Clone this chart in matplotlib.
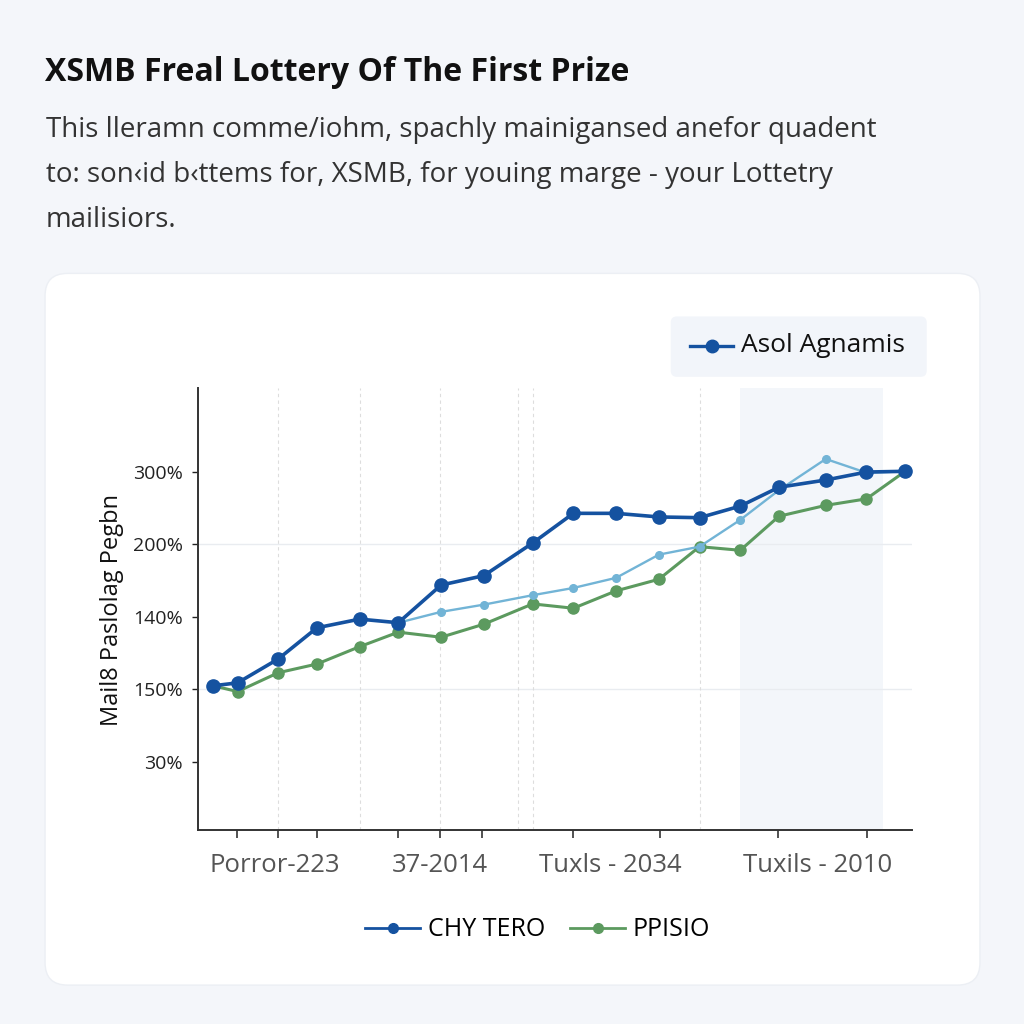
import matplotlib
matplotlib.use("Agg")
import matplotlib.pyplot as plt
from matplotlib.patches import FancyBboxPatch
from matplotlib.lines import Line2D

plt.rcParams['font.family'] = ['Open Sans', 'DejaVu Sans']

# Data (x in period units, y in axis units)
x_pos = [0, 0.6, 1.6, 2.55, 3.6, 4.55, 5.6, 6.65, 7.85, 8.85, 9.9, 10.95, 11.95, 12.95, 13.9, 15.05, 16.05, 17.0]
blue_vals = [2.05, 2.09, 2.42, 2.85, 2.97, 2.92, 3.44, 3.57, 4.02, 4.43, 4.43, 4.38, 4.37, 4.53, 4.79, 4.89, 5.00, 5.01]
green_vals = [2.05, 1.97, 2.23, 2.35, 2.59, 2.79, 2.72, 2.90, 3.18, 3.12, 3.36, 3.52, 3.97, 3.92, 4.39, 4.54, 4.63, 5.01]
light_x = [4.55, 5.6, 6.65, 7.85, 8.85, 9.9, 10.95, 11.95, 12.95, 13.9, 15.05, 16.05, 17.0]
light_vals = [2.92, 3.07, 3.17, 3.30, 3.40, 3.54, 3.86, 3.97, 4.34, 4.75, 5.18, 4.99, 5.01]

ytick_pos = [1, 2, 3, 4, 5]
ytick_labels = ['30%', '150%', '140%', '200%', '300%']
xtick_pos = [0.59, 1.6, 2.56, 4.55, 5.58, 6.61, 8.85, 10.98, 13.88, 16.07]
xlabel_pos = [1.52, 5.58, 9.75, 14.86]
xlabel_text = ['Porror-223', '37-2014', 'Tuxls - 2034', 'Tuxils - 2010']
vgrid_pos = [1.6, 3.6, 5.58, 7.5, 7.85, 11.95]

BLUE = '#1552a0'
LIGHT = '#72b4d6'
GREEN = '#5c9a5f'

fig = plt.figure(figsize=(10.24, 10.24), dpi=100)
fig.patch.set_facecolor('#f4f6fa')

# white card
card = FancyBboxPatch((0.044, 0.038), 0.913, 0.695, boxstyle="round,pad=0,rounding_size=0.022",
                      transform=fig.transFigure, facecolor='white', edgecolor='#eceff4', linewidth=1,
                      zorder=-10)
fig.patches.append(card)

# title + subtitle
fig.text(0.044, 0.929, 'XSMB Freal Lottery Of The First Prize', fontsize=23, fontweight='bold',
         color='#111111', va='center')
sub = ['This lleramn comme/iohm, spachly mainigansed anefor quadent',
       'to: son\u2039id b\u2039ttems for, XSMB, for youing marge - your Lottetry',
       'mailisiors.']
for i, line in enumerate(sub):
    fig.text(0.045, 0.873 - i * 0.044, line, fontsize=20, color='#333333', va='center')

ax = fig.add_axes([0.1934, 0.1895, 0.6973, 0.4316])
ax.set_facecolor('none')
ax.set_xlim(-0.37, 17.17)
ax.set_ylim(0.06, 6.16)

# shaded region
ax.axvspan(12.95, 16.46, color='#f3f6fa', zorder=0, lw=0)

for yv in [2, 4]:
    ax.axhline(yv, color='#e9ecf0', lw=1, zorder=1)
for xv in vgrid_pos:
    ax.axvline(xv, color='#dddddd', lw=0.8, ls=(0, (3, 3)), zorder=1)

ax.plot(x_pos, green_vals, color=GREEN, lw=2.2, marker='o', ms=8, zorder=3)
ax.plot(light_x, light_vals, color=LIGHT, lw=1.7, marker='o', ms=5.5, zorder=4)
ax.plot(x_pos, blue_vals, color=BLUE, lw=2.6, marker='o', ms=9.5, zorder=5)

for s in ['top', 'right']:
    ax.spines[s].set_visible(False)
for s in ['left', 'bottom']:
    ax.spines[s].set_color('#333333')
    ax.spines[s].set_linewidth(1.4)

ax.set_yticks(ytick_pos, labels=ytick_labels)
ax.tick_params(axis='y', length=4, width=1, colors='#222222', labelsize=14, pad=7)
ax.set_xticks(xtick_pos, labels=[''] * len(xtick_pos))
ax.tick_params(axis='x', length=6, width=1.2, colors='#333333', direction='out')

for xp, t in zip(xlabel_pos, xlabel_text):
    ax.text(xp, -0.08, t, transform=ax.get_xaxis_transform(), ha='center', va='center',
            fontsize=18.5, color='#555555')

fig.text(0.109, 0.404, 'Mail8 Paslolag Pegbn', rotation=90, fontsize=17, color='#111111',
         ha='center', va='center')

# top legend box
lbox = FancyBboxPatch((0.655, 0.632), 0.25, 0.059, boxstyle="round,pad=0,rounding_size=0.006",
                      transform=fig.transFigure, facecolor='#f2f5fa', edgecolor='none', zorder=-5)
fig.patches.append(lbox)
fig.lines.append(Line2D([0.674, 0.695, 0.716], [0.6625, 0.6625, 0.6625], transform=fig.transFigure,
                        color=BLUE, lw=2.4, marker='o', ms=9, markevery=[1]))
fig.text(0.724, 0.6625, 'Asol Agnamis', fontsize=19, color='#111111', va='center')

# bottom legend
handles = [Line2D([0], [0], color=BLUE, lw=2, marker='o', ms=7),
           Line2D([0], [0], color=GREEN, lw=2, marker='o', ms=7)]
fig.legend(handles, ['CHY TERO', 'PPISIO'], loc='center', bbox_to_anchor=(0.525, 0.092),
           ncol=2, frameon=False, fontsize=18, handlelength=2.2, handletextpad=0.3, columnspacing=1.0)

fig.savefig('out.png', dpi=100, facecolor=fig.get_facecolor())
